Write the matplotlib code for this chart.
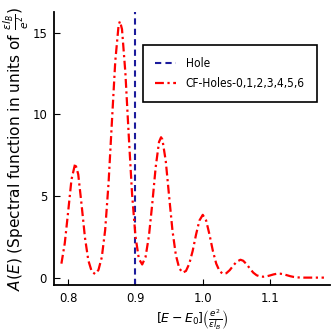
import matplotlib
matplotlib.use("Agg")
import matplotlib.pyplot as plt
from matplotlib.font_manager import FontProperties

# Spectral function samples
energy = [0.790, 0.795, 0.800, 0.805, 0.8105, 0.815, 0.820, 0.825, 0.830, 0.835,
          0.840, 0.845, 0.850, 0.855, 0.860, 0.865, 0.870, 0.875, 0.877, 0.880,
          0.885, 0.890, 0.895, 0.900, 0.905, 0.910, 0.915, 0.920, 0.925, 0.930,
          0.935, 0.938, 0.940, 0.945, 0.950, 0.955, 0.960, 0.965, 0.970, 0.975,
          0.980, 0.985, 0.990, 0.995, 1.000, 1.005, 1.010, 1.015, 1.020, 1.025,
          1.030, 1.035, 1.040, 1.045, 1.050, 1.056, 1.060, 1.065, 1.070, 1.075,
          1.080, 1.085, 1.090, 1.095, 1.100, 1.105, 1.110, 1.113, 1.115, 1.120,
          1.125, 1.130, 1.135, 1.140, 1.145, 1.150, 1.155, 1.160, 1.165, 1.170,
          1.175, 1.180]
spectral = [0.86, 2.11, 4.03, 6.02, 7.00, 6.33, 4.46, 2.45, 1.06, 0.385,
            0.226, 0.47, 1.25, 2.92, 5.77, 9.53, 13.25, 15.48, 15.70, 15.22,
            12.57, 8.73, 5.11, 2.54, 1.17, 0.81, 1.27, 2.55, 4.54, 6.75,
            8.31, 8.60, 8.47, 7.15, 4.99, 2.88, 1.39, 0.585, 0.31, 0.41,
            0.86, 1.64, 2.64, 3.50, 3.85, 3.50, 2.64, 1.64, 0.86, 0.40,
            0.234, 0.276, 0.46, 0.723, 0.97, 1.10, 1.04, 0.83, 0.56, 0.31,
            0.15, 0.075, 0.06, 0.087, 0.139, 0.20, 0.242, 0.25, 0.246, 0.211,
            0.152, 0.092, 0.047, 0.02, 0.01, 0.005, 0.005, 0.005, 0.005, 0.005,
            0.005, 0.005]
hole_energy = 0.9

xticks = [0.8, 0.9, 1.0, 1.1]
xticklabels = ["0.8", "0.9", "1.0", "1.1"]
yticks = [0, 5, 10, 15]

plt.rcParams["font.family"] = ["DejaVu Sans"]
cond = dict(family="DejaVu Sans", stretch="condensed")

W = H = 333
fig = plt.figure(figsize=(3.33, 3.33), dpi=100)
ax = fig.add_axes([54 / W, (H - 285) / H, (330 - 54) / W, (285 - 12) / H])

ax.axvline(hole_energy, color="#1c1c9c", linestyle=(0, (3, 2)), linewidth=1.5, label="Hole")
ax.plot(energy, spectral, color="red", linestyle=(0, (4, 1.6, 1, 1.6)), linewidth=1.6,
        label="CF-Holes-0,1,2,3,4,5,6")

ax.set_xlim(0.779, 1.189)
ax.set_ylim(-0.447, 16.27)
ax.set_xticks(xticks)
ax.set_xticklabels(xticklabels, fontproperties=FontProperties(size=9.3, **cond))
ax.set_yticks(yticks)
ax.set_yticklabels([str(v) for v in yticks], fontproperties=FontProperties(size=9.3, **cond))

for s in ["top", "right"]:
    ax.spines[s].set_visible(False)
for s in ["left", "bottom"]:
    ax.spines[s].set_linewidth(1.3)
ax.tick_params(direction="in", length=4, width=0.8, pad=5)

ax.set_xlabel(r"$[E-E_0]\left(\frac{e^2}{\epsilon l_B}\right)$", fontsize=9, labelpad=2)
ax.set_ylabel(r"$A(E)$ (Spectral function in units of $\frac{\epsilon l_B}{e^2}$)",
              fontsize=11.1, labelpad=0.5)

leg = ax.legend(loc="upper left", bbox_to_anchor=(142.7 / W, 1 - 45 / H),
                bbox_transform=fig.transFigure, borderaxespad=0,
                prop=FontProperties(size=8.6, **cond),
                borderpad=1.0, handlelength=1.8, handletextpad=0.8, labelspacing=0.6,
                fancybox=False, edgecolor="black", framealpha=1)
leg.get_frame().set_linewidth(1.2)

fig.savefig("out.png", dpi=100)
